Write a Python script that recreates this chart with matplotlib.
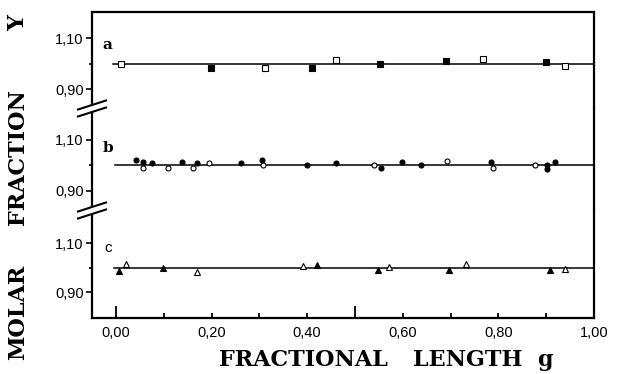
import numpy as np
import matplotlib.pyplot as plt
from matplotlib.lines import Line2D
from matplotlib.patches import Polygon

# panel a: squares
a_open_x = [0.010, 0.311, 0.460, 0.768, 0.939]
a_open_y = [1.000, 0.986, 1.016, 1.018, 0.990]
a_fill_x = [0.199, 0.410, 0.552, 0.690, 0.899]
a_fill_y = [0.983, 0.983, 1.000, 1.012, 1.008]

# panel b: circles
b_fill_x = [0.041, 0.056, 0.076, 0.138, 0.169, 0.261, 0.305, 0.400,
            0.460, 0.554, 0.599, 0.638, 0.784, 0.901, 0.902, 0.918]
b_fill_y = [1.019, 1.013, 1.010, 1.013, 1.010, 1.010, 1.020, 1.000,
            1.010, 0.990, 1.012, 1.000, 1.013, 1.000, 0.985, 1.012]
b_open_x = [0.056, 0.108, 0.161, 0.195, 0.308, 0.540, 0.692, 0.788, 0.877]
b_open_y = [0.987, 0.987, 0.990, 1.010, 1.000, 1.000, 1.015, 0.990, 1.000]

# panel c: triangles
c_fill_x = [0.007, 0.098, 0.420, 0.549, 0.697, 0.908]
c_fill_y = [0.985, 0.997, 1.012, 0.988, 0.988, 0.992]
c_open_x = [0.021, 0.170, 0.392, 0.572, 0.732, 0.940]
c_open_y = [1.016, 0.980, 1.007, 1.002, 1.016, 0.996]

fit_level = 1.0
x_ticks = np.round(np.arange(0, 1.01, 0.1), 2)
x_labels = ['0,00', '', '0,20', '', '0,40', '', '0,60', '', '0,80', '', '1,00']
x_long_ticks = [0.0, 0.5]

W, H = 637, 374
serif = 'DejaVu Serif'
sans = 'Liberation Sans'

fig = plt.figure(figsize=(W / 100, H / 100), dpi=100)

def box(top, bottom):
    return [92 / W, 1 - bottom / H, (594 - 92) / W, (bottom - top) / H]

def fx(px):
    return px / W

def fy(py):
    return 1 - py / H

panels = [
    dict(pos=box(12, 108), ylim=(0.827, 1.204), letter='a', ly=1.075, lfont=serif,
         series=[(a_fill_x, a_fill_y, 's', 'black', 4.0),
                 (a_open_x, a_open_y, 's', 'white', 4.0)], x0=-0.006),
    dict(pos=box(108, 210), ylim=(0.824, 1.224), letter='b', ly=1.067, lfont=serif,
         series=[(b_fill_x, b_fill_y, 'o', 'black', 3.6),
                 (b_open_x, b_open_y, 'o', 'white', 3.6)], x0=-0.002),
    dict(pos=box(210, 318), ylim=(0.794, 1.235), letter='c', ly=1.08, lfont=sans,
         series=[(c_fill_x, c_fill_y, '^', 'black', 4.5),
                 (c_open_x, c_open_y, '^', 'white', 4.5)], x0=-0.004),
]

for i, p in enumerate(panels):
    ax = fig.add_axes(p['pos'])
    ax.set_xlim(-0.05, 1.0)
    ax.set_ylim(*p['ylim'])
    ax.plot([p['x0'], 1.0], [fit_level, fit_level], color='black', lw=1.1, zorder=2)
    for xs, ys, m, fc, ms in p['series']:
        ax.plot(xs, ys, ls='none', marker=m, mfc=fc, mec='black', mew=0.8,
                ms=ms, zorder=3, clip_on=False)
    ax.text(-0.017, p['ly'], p['letter'], ha='center', va='center',
            fontsize=11, fontweight='bold' if p['lfont'] == serif else 'normal',
            family=p['lfont'])

    for s in ax.spines.values():
        s.set_linewidth(1.6)
    if i > 0:
        ax.spines['top'].set_visible(False)
    if i < 2:
        ax.spines['bottom'].set_visible(False)
        ax.set_xticks([])
    else:
        ax.set_xticks(x_ticks, labels=x_labels)
        ax.tick_params(axis='x', which='major', direction='in', length=0,
                       pad=6, labelsize=10.5)
        for lab in ax.get_xticklabels():
            lab.set_family(sans)
        # inward tick marks, the ones at 0 and 0.5 drawn longer
        tall = [0.11 if v in x_long_ticks else 0.045 for v in x_ticks]
        ax.vlines(x_ticks, 0, tall, transform=ax.get_xaxis_transform(),
                  color='black', lw=1.3, zorder=4)

    ax.set_yticks([0.9, 1.1], labels=['0,90', '1,10'])
    ax.set_yticks([1.0], minor=True)
    ax.tick_params(axis='y', which='major', direction='out', length=4, width=1.2,
                   pad=2, labelsize=10.5)
    ax.tick_params(axis='y', which='minor', direction='out', length=2.5, width=1.2)
    for lab in ax.get_yticklabels():
        lab.set_family(sans)

# axis break marks on the left spine
for yb in (108, 210):
    gap = 3.5
    pts = [(78, yb + 5 - gap), (106, yb - 4 - gap), (106, yb - 4 + gap), (78, yb + 5 + gap)]
    fig.add_artist(Polygon([(fx(a), fy(b)) for a, b in pts], closed=True,
                           transform=fig.transFigure, facecolor='white',
                           edgecolor='none', zorder=10))
    for off in (-gap, gap):
        fig.add_artist(Line2D([fx(78), fx(106)], [fy(yb + 5 + off), fy(yb - 4 + off)],
                              transform=fig.transFigure, color='black', lw=1.5,
                              zorder=11))

# axis titles, word by word as spaced in the original
for word, cx in [('FRACTIONAL', 303), ('LENGTH', 468), ('g', 545)]:
    fig.text(fx(cx), fy(360), word, ha='center', va='center', family=serif,
             fontweight='bold', fontsize=16)
for word, cy in [('MOLAR', 312), ('FRACTION', 157), ('Y', 23)]:
    fig.text(fx(18), fy(cy), word, ha='center', va='center', rotation=90,
             family=serif, fontweight='bold', fontsize=16)

fig.savefig('out.png', dpi=100)
